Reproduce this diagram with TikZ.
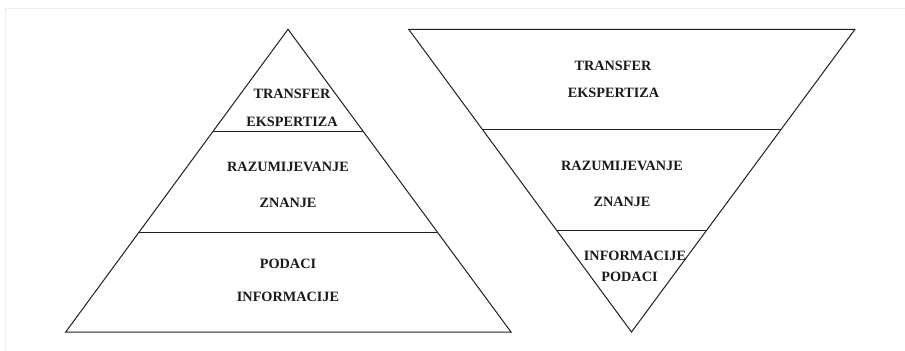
\documentclass[tikz,border=0pt]{standalone}
\usepackage{fontspec}
\setmainfont{Liberation Serif}
\begin{document}
\begin{tikzpicture}[x=1bp,y=-1bp,
  edge/.style={draw=black!88,line width=1bp,line join=miter},
  lbl/.style={font=\fontsize{14.3}{16}\selectfont\bfseries,text=black!90,inner sep=0pt,anchor=base}]
\useasboundingbox (0,0) rectangle (905,350);
% faint frame
\draw[black!7,line width=1.6bp] (5.5,352) -- (5.5,8.5) -- (907,8.5);

% upright pyramid
\coordinate (la) at (288,29.3);
\coordinate (ll) at (65.7,332);
\coordinate (lr) at (511,332);
\draw[edge] (la) -- (ll) -- (lr) -- cycle;
\coordinate (l1a) at (213,131); \coordinate (l1b) at (363,131);
\coordinate (l2a) at (139,232); \coordinate (l2b) at (437,232);
\draw[edge] (l1a) -- (l1b);
\draw[edge] (l2a) -- (l2b);
\node[lbl] (lt1) at (292,98) {TRANSFER};
\node[lbl] (lt2) at (292,126) {EKSPERTIZA};
\node[lbl] (lm1) at (288,171) {RAZUMIJEVANJE};
\node[lbl] (lm2) at (288,207) {ZNANJE};
\node[lbl] (lb1) at (288,268) {PODACI};
\node[lbl] (lb2) at (288,301) {INFORMACIJE};

% inverted pyramid
\coordinate (rl) at (408.7,29.3);
\coordinate (rr) at (855,29.3);
\coordinate (ra) at (631.5,332);
\draw[edge] (rl) -- (rr) -- (ra) -- cycle;
\coordinate (r1a) at (482,129); \coordinate (r1b) at (781,129);
\coordinate (r2a) at (556.7,230.7); \coordinate (r2b) at (705.7,230.7);
\draw[edge] (r1a) -- (r1b);
\draw[edge] (r2a) -- (r2b);
\node[lbl] (rt1) at (613,70) {TRANSFER};
\node[lbl] (rt2) at (613.5,97.5) {EKSPERTIZA};
\node[lbl] (rm1) at (622,170.5) {RAZUMIJEVANJE};
\node[lbl] (rm2) at (622,206) {ZNANJE};
\node[lbl] (rb1) at (635,260.5) {INFORMACIJE};
\node[lbl] (rb2) at (629.5,281) {PODACI};
\end{tikzpicture}
\end{document}
